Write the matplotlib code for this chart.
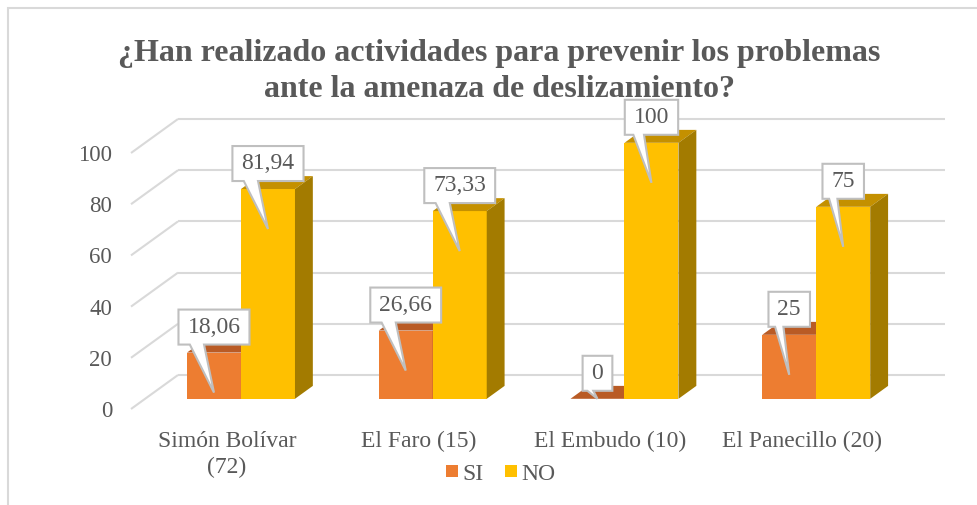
import matplotlib
matplotlib.use("Agg")
import matplotlib.pyplot as plt
from matplotlib.patches import Polygon, Rectangle
from matplotlib.lines import Line2D
import numpy as np

# ---- data ----
categories = ["Simón Bolívar\n(72)", "El Faro (15)", "El Embudo (10)", "El Panecillo (20)"]
series_names = ["SI", "NO"]
si_values = [18.06, 26.66, 0, 25]
no_values = [81.94, 73.33, 100, 75]
si_labels = ["18,06", "26,66", "0", "25"]
no_labels = ["81,94", "73,33", "100", "75"]
y_ticks = [0, 20, 40, 60, 80, 100]
title = "¿Han realizado actividades para prevenir los problemas\nante la amenaza de deslizamiento?"

# ---- style ----
FONT = "Liberation Serif"
plt.rcParams["font.family"] = [FONT, "DejaVu Serif"]
TXT = "#595959"
GRID = "#d9d9d9"
front_cols = {"SI": "#ED7D31", "NO": "#FFC000"}
top_cols = {"SI": "#B95B25", "NO": "#C49000"}
side_cols = {"SI": "#A14E1F", "NO": "#A37B00"}

W, H = 977, 505
fig = plt.figure(figsize=(W / 100, H / 100), dpi=100)

# axes = front plane of the 3D box
ax_l, ax_r, ax_t, ax_b = 131, 898, 153, 409
ax = fig.add_axes([ax_l / W, 1 - ax_b / H, (ax_r - ax_l) / W, (ax_b - ax_t) / H])
n = len(categories)
ax.set_xlim(-0.5, n - 0.5)
ax.set_ylim(0, 100)
for s in ax.spines.values():
    s.set_visible(False)

px_x = (ax_r - ax_l) / n
px_y = (ax_b - ax_t) / 100.0
DX = 47 / px_x          # full depth shift in x data units
DY = 34 / px_y          # full depth shift in y data units
f0, f1 = 0.30, 0.68     # bar depth start / end fractions
bw = 54 / px_x

# back wall gridlines + side wall diagonals
for v in y_ticks:
    ax.plot([-0.5, -0.5 + DX], [v, v + DY], color=GRID, lw=1.5, clip_on=False, zorder=1,
            solid_capstyle="butt")
    ax.plot([-0.5 + DX, n - 0.5 + DX], [v + DY, v + DY], color=GRID, lw=1.5, clip_on=False,
            zorder=1, solid_capstyle="butt")

ax.set_yticks(y_ticks)
ax.set_yticklabels([str(t) for t in y_ticks], fontsize=16.5, color=TXT)
ax.set_xticks(range(n))
ax.set_xticklabels(categories, fontsize=17, color=TXT, linespacing=1.35)
ax.tick_params(axis="y", length=0, pad=13.5)
ax.tick_params(axis="x", length=0, pad=15.5)

xc = np.arange(n)
label_jobs = []
z = 3
for i in range(n):
    for k, (name, vals, labs) in enumerate(zip(series_names, [si_values, no_values], [si_labels, no_labels])):
        v = vals[i]
        xl = xc[i] + (k - 1) * bw + f0 * DX
        xr = xl + bw
        y0 = f0 * DY
        ddx = (f1 - f0) * DX
        ddy = (f1 - f0) * DY
        ax.bar(xl, v, bottom=y0, width=bw, align="edge", color=front_cols[name],
               clip_on=False, zorder=z, linewidth=0)
        top = Polygon([(xl, v + y0), (xr, v + y0), (xr + ddx, v + y0 + ddy), (xl + ddx, v + y0 + ddy)],
                      closed=True, facecolor=top_cols[name], edgecolor="none", clip_on=False, zorder=z)
        side = Polygon([(xr, y0), (xr, v + y0), (xr + ddx, v + y0 + ddy), (xr + ddx, y0 + ddy)],
                       closed=True, facecolor=side_cols[name], edgecolor="none", clip_on=False, zorder=z)
        ax.add_patch(top)
        ax.add_patch(side)
        z += 1
        label_jobs.append(((xl + xr) / 2, v, y0, labs[i]))

# data label callouts
renderer = fig.canvas.get_renderer()
inv = fig.transFigure.inverted()
for (x, v, y0, lab) in label_jobs:
    px, py = ax.transData.transform((x, v + y0))
    _, pbot = ax.transData.transform((x, y0))
    tip_y = max(py - 40, pbot)
    t = fig.text(0, 0, lab, fontsize=17, color=TXT, ha="center", va="center", zorder=20)
    tw = t.get_window_extent(renderer).width
    bwid = tw + 18
    bh = 35
    B = py + 8
    T = B + bh
    L = px - bwid / 2
    R = px + bwid / 2
    b1 = px - 0.34 * bwid
    b2 = px - 0.14 * bwid
    verts = [(L, B), (b1, B), (px, tip_y), (b2, B), (R, B), (R, T), (L, T)]
    verts_f = inv.transform(verts)
    poly = Polygon(verts_f, closed=True, facecolor="white", edgecolor="#bfbfbf", lw=1.5,
                   transform=fig.transFigure, zorder=19, joinstyle="miter")
    fig.patches.append(poly)
    cx, cy = inv.transform((px, B + bh / 2))
    t.set_position((cx, cy))

# title
fig.text(0.511, 1 - 39 / H, title, ha="center", va="top", fontsize=23, fontweight="bold",
         color=TXT, linespacing=1.3)

# legend
handles = [Line2D([], [], marker="s", linestyle="none", markersize=9, color=front_cols[s],
                  markeredgewidth=0) for s in series_names]
fig.legend(handles, series_names, loc="center", bbox_to_anchor=(0.512, 1 - 474 / H), ncol=2,
           frameon=False, fontsize=17, handlelength=0.6, handletextpad=0.1, columnspacing=0.9,
           labelcolor=TXT)

# outer chart frame
fig.patches.append(Rectangle((8 / W, -0.1), 1.2, 1.1 - 8 / H, transform=fig.transFigure,
                             facecolor="none", edgecolor=GRID, lw=1.5, zorder=0))

fig.savefig("out.png", dpi=100)
